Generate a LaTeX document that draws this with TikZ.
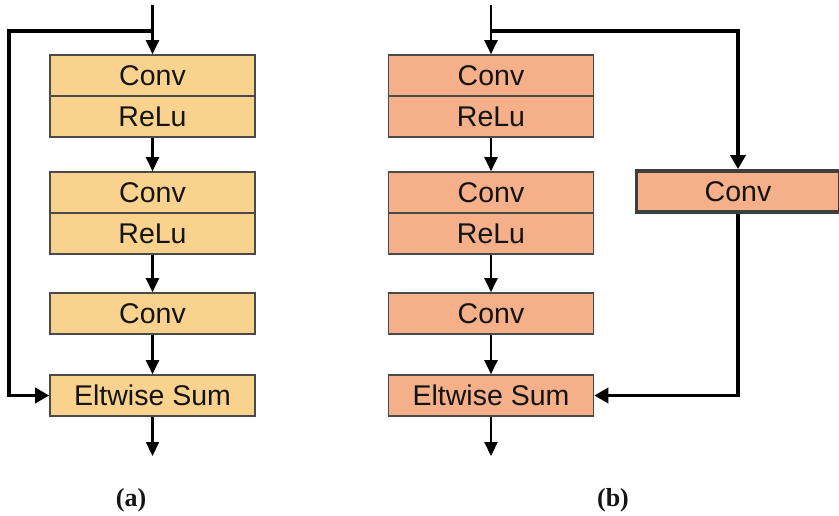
\documentclass[tikz,border=0pt]{standalone}
\usepackage{fontspec}
\setmainfont{Liberation Sans}
\newfontfamily\capfont{Liberation Serif}
\usetikzlibrary{arrows.meta}
\definecolor{fillA}{HTML}{F9D38E}
\definecolor{fillB}{HTML}{F5B089}
\definecolor{edge}{HTML}{4A4A4A}
\definecolor{ink}{HTML}{141414}
\tikzset{
  blk/.style={draw=edge, line width=1.6pt, minimum width=205pt, minimum height=41pt,
    inner sep=0pt, text=ink, font=\fontsize{28.5}{30}\selectfont},
  blkA/.style={blk, fill=fillA},
  blkB/.style={blk, fill=fillB},
  flow/.style={draw=black, line width=2.2pt, -{Triangle[width=13pt,length=14pt]}},
  skip/.style={draw=black, line width=3.8pt, -{Triangle[width=15pt,length=14pt]}},
  sublabel/.style={font=\capfont\bfseries\fontsize{26}{28}\selectfont, text=ink},
}
\begin{document}
\begin{tikzpicture}[x=1pt, y=-1pt]
\useasboundingbox (0,0) rectangle (839,516);

% ---- (a) plain residual block ----
\node[blkA] (convA1) at (152.5,75.5) {Conv};
\node[blkA] (reluA1) at (152.5,116.5) {ReLu};
\node[blkA] (convA2) at (152.5,192.5) {Conv};
\node[blkA] (reluA2) at (152.5,233.5) {ReLu};
\node[blkA] (convA3) at (152.5,313.5) {Conv};
\node[blkA] (sumA) at (152.5,395.5) {Eltwise Sum};
\coordinate (inA) at (152.5,5);
\coordinate (jA) at (152.5,31);
\coordinate (cA) at (9,31);
\coordinate (outA) at (152.5,456);

\draw[line width=2.2pt] (inA) -- (jA);
\draw[flow] (jA) -- (convA1.north);
\draw[flow] (reluA1.south) -- (convA2.north);
\draw[flow] (reluA2.south) -- (convA3.north);
\draw[flow] (convA3.south) -- (sumA.north);
\draw[flow] (sumA.south) -- (outA);
\draw[skip] (jA) -- (cA) |- (sumA.west);
\node[sublabel] (labA) at (131,500) {(a)};

% ---- (b) residual block with projection ----
\node[blkB] (convB1) at (491,75.5) {Conv};
\node[blkB] (reluB1) at (491,116.5) {ReLu};
\node[blkB] (convB2) at (491,192.5) {Conv};
\node[blkB] (reluB2) at (491,233.5) {ReLu};
\node[blkB] (convB3) at (491,313.5) {Conv};
\node[blkB] (sumB) at (491,395.5) {Eltwise Sum};
\node[blkB, line width=3.8pt, draw=edge!85!black, minimum width=203pt, minimum height=41pt] (proj) at (738,191.5) {Conv};
\coordinate (inB) at (491,5);
\coordinate (jB) at (491,31);
\coordinate (outB) at (491,456);

\draw[line width=2.2pt] (inB) -- (jB);
\draw[flow] (jB) -- (convB1.north);
\draw[flow] (reluB1.south) -- (convB2.north);
\draw[flow] (reluB2.south) -- (convB3.north);
\draw[flow] (convB3.south) -- (sumB.north);
\draw[flow] (sumB.south) -- (outB);
\draw[skip] (jB) -| (proj.north);
\draw[skip] (proj.south) |- (sumB.east);
\node[sublabel] (labB) at (613,500) {(b)};
\end{tikzpicture}
\end{document}
